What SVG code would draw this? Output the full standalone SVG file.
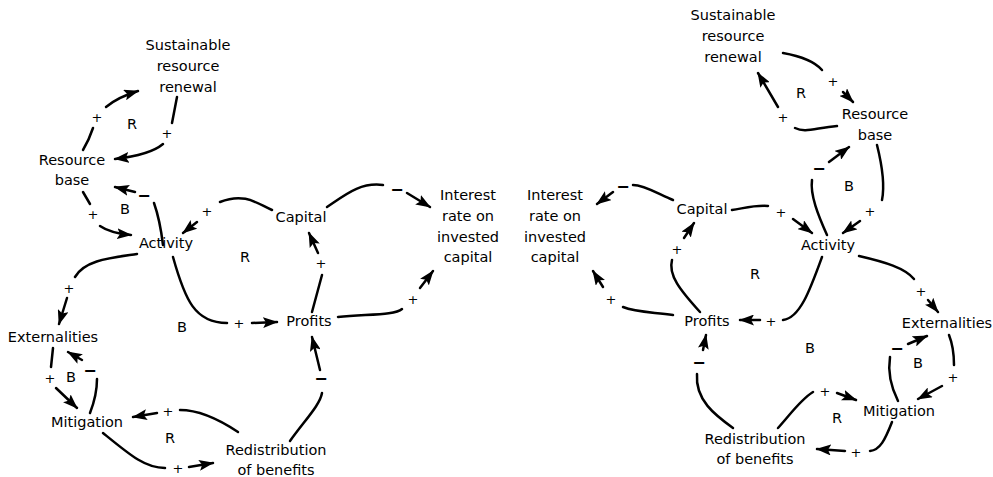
<svg xmlns="http://www.w3.org/2000/svg" width="993" height="477" viewBox="0 0 993 477">
<style>
text{font-family:"DejaVu Sans","Noto Sans",sans-serif;fill:#000}
.n{font-size:14.5px;text-anchor:middle}
.l{font-size:14.5px;text-anchor:middle}
.p{font-size:13px;text-anchor:middle}
.m{font-size:16px;font-weight:bold;text-anchor:middle}
.c{fill:none;stroke:#000;stroke-width:2.5;stroke-linecap:round}
.a{fill:none;stroke:#000;stroke-width:2.5;stroke-linecap:round;marker-end:url(#ah)}
</style>
<defs>
<marker id="ah" viewBox="0 0 15 11" refX="14" refY="5.5" markerWidth="15" markerHeight="11" markerUnits="userSpaceOnUse" orient="auto">
<path d="M0,0 L15,5.5 L0,11 L3,5.5 z" fill="#000"/>
</marker>
</defs>
<g id="connectors">
<!-- left -->
<path class="c" d="M83,150 Q89,140 93,128"/><text class="p" x="97" y="122">+</text><path class="a" d="M106,107 Q118,97 138,91"/>
<path class="c" d="M177,97 L172,123"/><text class="p" x="167" y="138">+</text><path class="a" d="M163,144 Q150,155 115,159"/>
<path class="c" d="M163,245 Q160,220 154,203"/><text class="m" x="144" y="201">−</text><path class="a" d="M135,192 L115,187"/>
<path class="c" d="M83,192 L90,204"/><text class="p" x="93" y="219">+</text><path class="a" d="M100,226 Q110,233 131,235"/>
<path class="c" d="M272,210 C258,204 245,192 220,202"/><text class="p" x="207" y="216">+</text><path class="a" d="M197,222 L183,233"/>
<path class="c" d="M327,207 C345,195 360,182 383,185"/><text class="m" x="397" y="195">−</text><path class="a" d="M407,193 L430,207"/>
<path class="c" d="M312,312 Q318,290 322,275"/><text class="p" x="321" y="268">+</text><path class="a" d="M318,253 L309,233"/>
<path class="c" d="M173,257 C185,300 195,323 227,323"/><text class="p" x="239" y="328">+</text><path class="a" d="M252,323 L277,322"/>
<path class="c" d="M338,317 C370,314 395,315 402,309"/><text class="p" x="413" y="304">+</text><path class="a" d="M420,288 L433,271"/>
<path class="c" d="M137,254 C110,258 85,260 75,277"/><text class="p" x="69" y="293">+</text><path class="a" d="M67,298 L59,324"/>
<path class="c" d="M53,348 L51,367"/><text class="p" x="50" y="383">+</text><path class="a" d="M56,388 L77,408"/>
<path class="c" d="M90,413 Q97,395 97,379"/><text class="m" x="90" y="376">−</text><path class="a" d="M82,360 L68,352"/>
<path class="c" d="M238,432 C220,420 200,410 180,410"/><text class="p" x="168" y="416">+</text><path class="a" d="M157,413 L133,417"/>
<path class="c" d="M103,433 C130,455 145,468 165,468"/><text class="p" x="178" y="473">+</text><path class="a" d="M189,467 L213,463"/>
<path class="c" d="M290,441 C305,420 320,405 322,393"/><text class="m" x="321" y="384">−</text><path class="a" d="M320,370 L312,337"/>
<!-- right -->
<path class="c" d="M783,53 C800,56 815,62 822,70"/><text class="p" x="833" y="86">+</text><path class="a" d="M843,92 L853,102"/>
<path class="c" d="M837,126 C815,128 805,133 795,128"/><text class="p" x="783" y="122">+</text><path class="a" d="M778,107 L758,73"/>
<path class="c" d="M827,235 C818,215 810,195 812,180"/><text class="m" x="819" y="174">−</text><path class="a" d="M829,162 L849,147"/>
<path class="c" d="M877,145 C882,165 885,185 882,200"/><text class="p" x="870" y="216">+</text><path class="a" d="M860,221 L843,233"/>
<path class="c" d="M732,210 C745,208 755,205 768,206"/><text class="p" x="781" y="217">+</text><path class="a" d="M793,219 L812,233"/>
<path class="c" d="M673,200 C660,195 645,185 633,185"/><text class="m" x="623" y="192">−</text><path class="a" d="M613,192 L597,204"/>
<path class="c" d="M700,312 C680,290 668,275 672,260"/><text class="p" x="677" y="254">+</text><path class="a" d="M684,238 L694,223"/>
<path class="c" d="M822,257 C810,290 800,318 783,320"/><text class="p" x="771" y="326">+</text><path class="a" d="M760,320 L740,320"/>
<path class="c" d="M673,315 C650,312 635,312 623,307"/><text class="p" x="611" y="304">+</text><path class="a" d="M603,287 L593,271"/>
<path class="c" d="M859,256 C885,262 905,268 914,279"/><text class="p" x="921" y="296">+</text><path class="a" d="M928,300 L938,312"/>
<path class="c" d="M949,335 C953,345 954,355 954,365"/><text class="p" x="953" y="382">+</text><path class="a" d="M942,386 L918,399"/>
<path class="c" d="M898,401 C890,385 888,370 890,357"/><text class="m" x="897" y="354">−</text><path class="a" d="M908,344 L927,336"/>
<path class="c" d="M778,428 C790,415 800,400 813,392"/><text class="p" x="825" y="396">+</text><path class="a" d="M837,393 L856,400"/>
<path class="c" d="M892,422 C885,440 880,450 870,451"/><text class="p" x="856" y="457">+</text><path class="a" d="M845,451 L817,449"/>
<path class="c" d="M733,428 C715,415 695,400 697,374"/><text class="m" x="699" y="368">−</text><path class="a" d="M703,350 L706,335"/>
</g>
<g id="loops">
<text class="l" x="132" y="129">R</text>
<text class="l" x="125" y="214">B</text>
<text class="l" x="245" y="262">R</text>
<text class="l" x="182" y="332">B</text>
<text class="l" x="71" y="382">B</text>
<text class="l" x="170" y="443">R</text>
<text class="l" x="801" y="98">R</text>
<text class="l" x="849" y="191">B</text>
<text class="l" x="755" y="279">R</text>
<text class="l" x="810" y="353">B</text>
<text class="l" x="918" y="368">B</text>
<text class="l" x="837" y="423">R</text>
</g>
<g id="L_renewal"><text class="n" x="188" y="50">Sustainable<tspan x="188" dy="21">resource</tspan><tspan x="188" dy="21">renewal</tspan></text></g>
<g id="L_resource"><text class="n" x="72" y="165">Resource<tspan x="72" dy="20">base</tspan></text></g>
<g id="L_activity"><text class="n" x="166" y="248">Activity</text></g>
<g id="L_capital"><text class="n" x="301" y="222">Capital</text></g>
<g id="L_interest"><text class="n" x="468" y="200">Interest<tspan x="468" dy="21">rate on</tspan><tspan x="468" dy="21">invested</tspan><tspan x="468" dy="20">capital</tspan></text></g>
<g id="L_profits"><text class="n" x="309" y="326">Profits</text></g>
<g id="L_externalities"><text class="n" x="53" y="342">Externalities</text></g>
<g id="L_mitigation"><text class="n" x="87" y="427">Mitigation</text></g>
<g id="L_redistribution"><text class="n" x="276" y="455">Redistribution<tspan x="276" dy="20">of benefits</tspan></text></g>
<g id="R_renewal"><text class="n" x="733" y="20">Sustainable<tspan x="733" dy="21">resource</tspan><tspan x="733" dy="21">renewal</tspan></text></g>
<g id="R_resource"><text class="n" x="875" y="119">Resource<tspan x="875" dy="21">base</tspan></text></g>
<g id="R_interest"><text class="n" x="555" y="200">Interest<tspan x="555" dy="21">rate on</tspan><tspan x="555" dy="21">invested</tspan><tspan x="555" dy="20">capital</tspan></text></g>
<g id="R_capital"><text class="n" x="702" y="214">Capital</text></g>
<g id="R_activity"><text class="n" x="828" y="250">Activity</text></g>
<g id="R_profits"><text class="n" x="707" y="326">Profits</text></g>
<g id="R_externalities"><text class="n" x="947" y="328">Externalities</text></g>
<g id="R_mitigation"><text class="n" x="899" y="416">Mitigation</text></g>
<g id="R_redistribution"><text class="n" x="755" y="444">Redistribution<tspan x="755" dy="20">of benefits</tspan></text></g>
</svg>
